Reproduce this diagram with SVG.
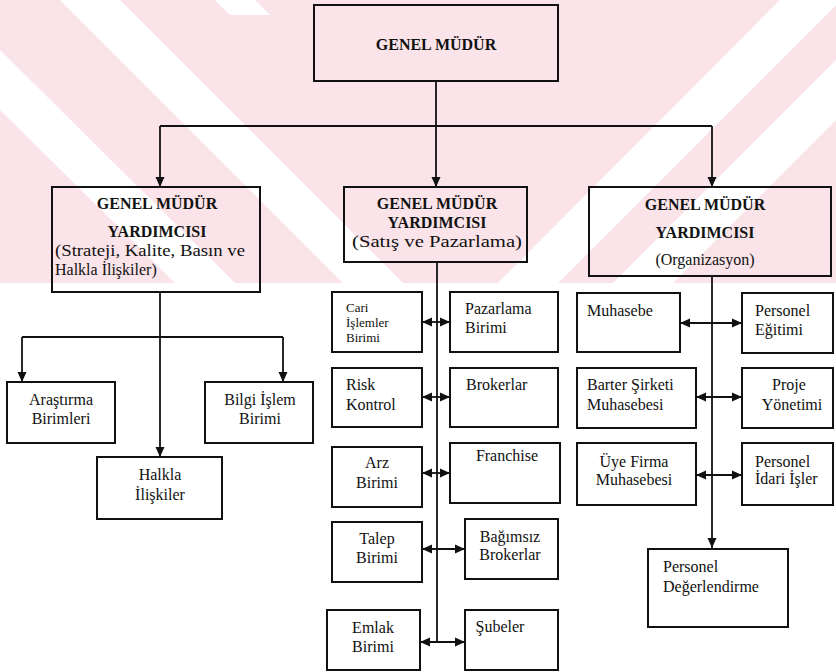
<svg xmlns="http://www.w3.org/2000/svg" width="836" height="672" viewBox="0 0 836 672">
<defs>
<style>
.box{fill:none;stroke:#111;stroke-width:2}
.ln{fill:none;stroke:#111;stroke-width:1.8}
.b{font-family:"Liberation Serif","Times New Roman",serif;font-weight:bold;font-size:16px;fill:#111;text-anchor:middle}
.t{font-family:"Liberation Serif","Times New Roman",serif;font-size:16px;fill:#111}
.c{text-anchor:middle}
.s{font-size:13px}
.wm{fill:#fbe4e9}
.wg{fill:#ffffff}
</style>
<marker id="ah" markerUnits="userSpaceOnUse" markerWidth="11" markerHeight="10" refX="10" refY="5" orient="auto-start-reverse" viewBox="0 0 11 10">
<path d="M0,0.5 L10,5 L0,9.5 z" fill="#111"/>
</marker>
<clipPath id="wmclip"><rect x="0" y="0" width="836" height="283"/></clipPath>
</defs>
<rect width="836" height="672" fill="#ffffff"/>
<g id="watermark" clip-path="url(#wmclip)">
<rect class="wm" x="0" y="0" width="836" height="283"/>
<polygon class="wg" points="0,50 0,110 175,283 235,283"/>
<polygon class="wg" points="60,0 120,0 403,283 343,283"/>
<polygon class="wg" points="215,0 255,0 270,15 230,15"/>
<polygon class="wg" points="836,60 836,120 673,283 613,283"/>
<polygon class="wg" points="780,0 836,0 836,5 558,283 498,283"/>
</g>
<g id="connectors">
<line class="ln" x1="436" y1="81" x2="436" y2="126"/>
<line class="ln" x1="160" y1="126" x2="712" y2="126"/>
<line class="ln" x1="160" y1="126" x2="160" y2="187" marker-end="url(#ah)"/>
<line class="ln" x1="436" y1="126" x2="436" y2="187" marker-end="url(#ah)"/>
<line class="ln" x1="712" y1="126" x2="712" y2="187" marker-end="url(#ah)"/>
<line class="ln" x1="160" y1="292" x2="160" y2="457" marker-end="url(#ah)"/>
<line class="ln" x1="22" y1="337" x2="283" y2="337"/>
<line class="ln" x1="22" y1="337" x2="22" y2="382" marker-end="url(#ah)"/>
<line class="ln" x1="283" y1="337" x2="283" y2="382" marker-end="url(#ah)"/>
<line class="ln" x1="437" y1="262" x2="437" y2="642"/>
<line class="ln" x1="422" y1="322" x2="450" y2="322" marker-start="url(#ah)" marker-end="url(#ah)"/>
<line class="ln" x1="422" y1="397" x2="450" y2="397" marker-start="url(#ah)" marker-end="url(#ah)"/>
<line class="ln" x1="422" y1="473" x2="450" y2="473" marker-start="url(#ah)" marker-end="url(#ah)"/>
<line class="ln" x1="422" y1="549" x2="465" y2="549" marker-start="url(#ah)" marker-end="url(#ah)"/>
<line class="ln" x1="420" y1="642" x2="465" y2="642" marker-start="url(#ah)" marker-end="url(#ah)"/>
<line class="ln" x1="712" y1="276" x2="712" y2="548" marker-end="url(#ah)"/>
<line class="ln" x1="680" y1="323" x2="742" y2="323" marker-start="url(#ah)" marker-end="url(#ah)"/>
<line class="ln" x1="696" y1="397" x2="742" y2="397" marker-start="url(#ah)" marker-end="url(#ah)"/>
<line class="ln" x1="696" y1="475" x2="742" y2="475" marker-start="url(#ah)" marker-end="url(#ah)"/>
</g>
<g id="genel-mudur">
<rect class="box" x="314" y="5" width="244" height="76"/>
<text class="b" x="436" y="50">GENEL MÜDÜR</text>
</g>
<g id="gmy-strateji">
<rect class="box" x="52" y="187" width="208" height="105"/>
<text class="b" x="157" y="209">GENEL MÜDÜR</text>
<text class="b" x="157" y="237">YARDIMCISI</text>
<text class="t" x="55" y="256" textLength="190" lengthAdjust="spacingAndGlyphs">(Strateji, Kalite,  Basın ve</text>
<text class="t" x="55" y="275">Halkla İlişkiler)</text>
</g>
<g id="gmy-satis">
<rect class="box" x="344" y="187" width="183" height="75"/>
<text class="b" x="437" y="209">GENEL MÜDÜR</text>
<text class="b" x="437" y="228">YARDIMCISI</text>
<text class="t c" x="437" y="247" textLength="170" lengthAdjust="spacingAndGlyphs">(Satış ve Pazarlama)</text>
</g>
<g id="gmy-organizasyon">
<rect class="box" x="589" y="187" width="242" height="89"/>
<text class="b" x="705" y="210">GENEL MÜDÜR</text>
<text class="b" x="705" y="238">YARDIMCISI</text>
<text class="t c" x="705" y="265">(Organizasyon)</text>
</g>
<g id="arastirma">
<rect class="box" x="7" y="382" width="108" height="61"/>
<text class="t c" x="61" y="405">Araştırma</text>
<text class="t c" x="61" y="424">Birimleri</text>
</g>
<g id="bilgi-islem">
<rect class="box" x="205" y="382" width="108" height="61"/>
<text class="t c" x="260" y="405">Bilgi İşlem</text>
<text class="t c" x="260" y="424">Birimi</text>
</g>
<g id="halkla-iliskiler">
<rect class="box" x="97" y="457" width="125" height="62"/>
<text class="t c" x="160" y="480">Halkla</text>
<text class="t c" x="160" y="500">İlişkiler</text>
</g>
<g id="cari-islemler">
<rect class="box" x="332" y="292" width="90" height="60"/>
<text class="t s" x="346" y="312">Cari</text>
<text class="t s" x="346" y="327">İşlemler</text>
<text class="t s" x="346" y="342">Birimi</text>
</g>
<g id="pazarlama">
<rect class="box" x="450" y="292" width="108" height="60"/>
<text class="t" x="465" y="314">Pazarlama</text>
<text class="t" x="465" y="333">Birimi</text>
</g>
<g id="risk-kontrol">
<rect class="box" x="332" y="368" width="90" height="59"/>
<text class="t" x="346" y="390">Risk</text>
<text class="t" x="346" y="410">Kontrol</text>
</g>
<g id="brokerlar">
<rect class="box" x="450" y="368" width="108" height="59"/>
<text class="t" x="466" y="390">Brokerlar</text>
</g>
<g id="arz">
<rect class="box" x="332" y="447" width="90" height="60"/>
<text class="t c" x="377" y="468">Arz</text>
<text class="t c" x="377" y="488">Birimi</text>
</g>
<g id="franchise">
<rect class="box" x="450" y="443" width="110" height="60"/>
<text class="t c" x="507" y="461">Franchise</text>
</g>
<g id="talep">
<rect class="box" x="332" y="522" width="90" height="60"/>
<text class="t c" x="377" y="544">Talep</text>
<text class="t c" x="377" y="563">Birimi</text>
</g>
<g id="bagimsiz-brokerlar">
<rect class="box" x="465" y="519" width="93" height="60"/>
<text class="t c" x="510" y="542">Bağımsız</text>
<text class="t c" x="510" y="560">Brokerlar</text>
</g>
<g id="emlak">
<rect class="box" x="327" y="610" width="93" height="60"/>
<text class="t c" x="373" y="633">Emlak</text>
<text class="t c" x="373" y="652">Birimi</text>
</g>
<g id="subeler">
<rect class="box" x="465" y="610" width="93" height="60"/>
<text class="t c" x="500" y="632">Şubeler</text>
</g>
<g id="muhasebe">
<rect class="box" x="577" y="293" width="103" height="59"/>
<text class="t" x="587" y="316">Muhasebe</text>
</g>
<g id="personel-egitimi">
<rect class="box" x="742" y="293" width="91" height="60"/>
<text class="t" x="755" y="316">Personel</text>
<text class="t" x="755" y="335">Eğitimi</text>
</g>
<g id="barter">
<rect class="box" x="577" y="368" width="119" height="60"/>
<text class="t" x="587" y="390">Barter Şirketi</text>
<text class="t" x="587" y="410">Muhasebesi</text>
</g>
<g id="proje">
<rect class="box" x="742" y="368" width="91" height="60"/>
<text class="t c" x="789" y="390">Proje</text>
<text class="t c" x="792" y="410">Yönetimi</text>
</g>
<g id="uye-firma">
<rect class="box" x="577" y="443" width="119" height="62"/>
<text class="t c" x="634" y="467">Üye Firma</text>
<text class="t c" x="634" y="485">Muhasebesi</text>
</g>
<g id="personel-idari">
<rect class="box" x="742" y="443" width="91" height="62"/>
<text class="t" x="755" y="467">Personel</text>
<text class="t" x="755" y="484">İdari İşler</text>
</g>
<g id="personel-degerlendirme">
<rect class="box" x="648" y="549" width="140" height="78"/>
<text class="t" x="663" y="572">Personel</text>
<text class="t" x="663" y="592">Değerlendirme</text>
</g>
</svg>
